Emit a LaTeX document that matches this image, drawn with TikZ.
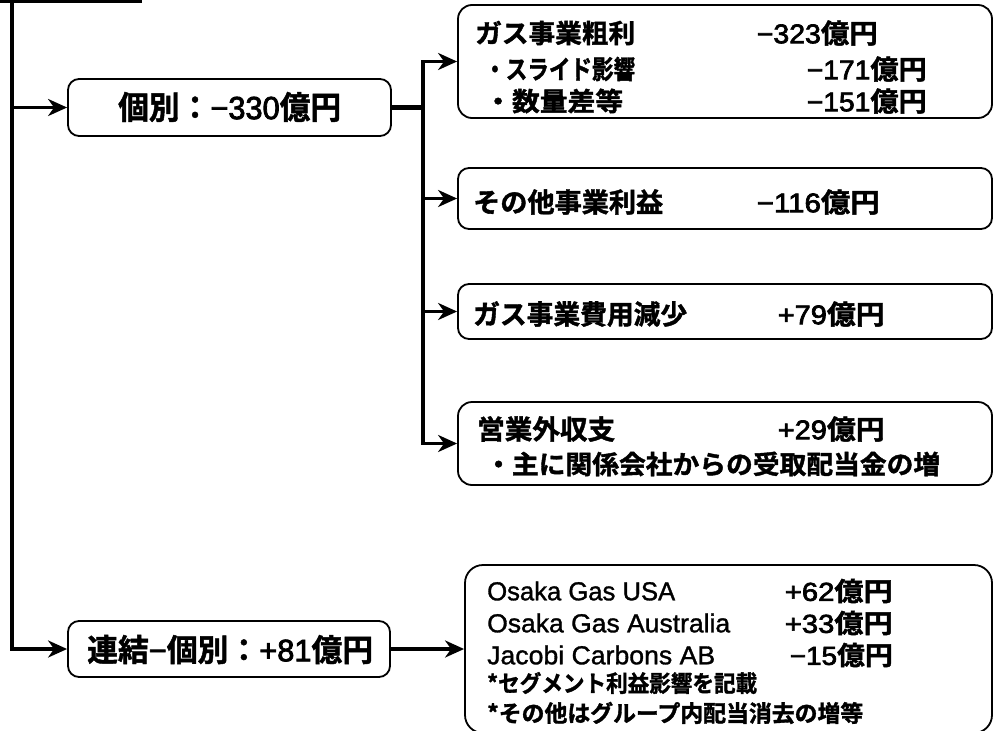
\documentclass[tikz,border=0pt]{standalone}
\usepackage{fontspec}
\usepackage{graphicx}
\setmainfont{Noto Sans CJK JP Bold}[FakeBold=1.5]
\newfontfamily\latf{Liberation Sans}[FakeBold=2.5]
\newfontfamily\latl{Liberation Sans}[FakeBold=1.2]
\usetikzlibrary{arrows.meta}
\newcommand\fitt[3]{\resizebox{#1pt}{\height}{\fontsize{#2pt}{#2pt}\selectfont #3}}
\newcommand\okuen[1]{{\latf #1}億円}
\begin{document}
\begin{tikzpicture}[x=1pt,y=-1pt,
  box/.style={draw=black, line width=1.8pt, rounded corners=#1, inner sep=0pt, fill=white},
  box/.default=10pt,
  lbl/.style={inner sep=0pt, anchor=west},
  val/.style={inner sep=0pt, anchor=east},
  trunk/.style={line width=4.5pt},
  arr/.style={line width=3.8pt, line join=miter, -{Stealth[length=19pt,width=17pt,inset=6pt]}}]
\useasboundingbox (0,0) rectangle (994,731);
\clip (0,0) rectangle (994,731);

% boxes
\node[box=11pt, minimum width=323pt, minimum height=57pt] (box1) at (229.5,107.5) {};
\node[box=11pt, minimum width=322pt, minimum height=56pt] (boxF) at (229,649) {};
\node[box=14pt, minimum width=534pt, minimum height=113pt] (boxA) at (725,61.5) {};
\node[box=11pt, minimum width=534pt, minimum height=61pt] (boxB) at (725,198.5) {};
\node[box=11pt, minimum width=534pt, minimum height=55pt] (boxC) at (725,311.5) {};
\node[box=14pt, minimum width=534pt, minimum height=83pt] (boxD) at (725,443.5) {};
\node[box=18pt, minimum width=527pt, minimum height=168pt] (boxE) at (728.5,649) {};

% connectors
\coordinate (tl) at (0,0.5);
\coordinate (tr) at (142,0.5);
\coordinate (t) at (12,0);
\coordinate (j) at (423,107.5);
\draw[trunk] (tl) -- (tr);
\draw[arr, line width=4.5pt] (t) |- (boxF.west);
\draw[arr] (t |- box1.west) -- (box1.west);
\draw[trunk] (box1.east) -- (j);
\draw[arr] (j) |- (boxA.west);
\draw[arr] (j) |- (boxD.west);
\draw[arr] (j |- boxB.west) -- (boxB.west);
\draw[arr] (j |- boxC.west) -- (boxC.west);
\draw[arr] (boxF.east) -- (boxE.west);

% texts
\node[lbl] (t1) at (118,107) {\fitt{223}{32}{個別：\okuen{−330}}};
\node[lbl] (tF) at (87,649.5) {\fitt{286}{31}{連結{\latf −}個別：\okuen{+81}}};

\node[lbl] (a1) at (475,33) {\fitt{160}{26}{ガス事業粗利}};
\node[val] (a1v) at (878,33) {\fitt{121}{27}{\okuen{−323}}};
\node[lbl] (a2) at (484,69) {\fitt{151}{26}{・スライド影響}};
\node[val] (a2v) at (927,69) {\fitt{120}{27}{\okuen{−171}}};
\node[lbl] (a3) at (484,101) {\fitt{139}{26}{・数量差等}};
\node[val] (a3v) at (927,101) {\fitt{120}{27}{\okuen{−151}}};

\node[lbl] (b1) at (473,202) {\fitt{190}{27}{その他事業利益}};
\node[val] (b1v) at (880,202) {\fitt{123}{27}{\okuen{−116}}};

\node[lbl] (c1) at (473,314) {\fitt{214}{27}{ガス事業費用減少}};
\node[val] (c1v) at (885,314) {\fitt{107}{27}{\okuen{+79}}};

\node[lbl] (d1) at (477,429) {\fitt{138}{27}{営業外収支}};
\node[val] (d1v) at (885,429) {\fitt{107}{27}{\okuen{+29}}};
\node[lbl] (d2) at (485,464) {\fitt{455}{26}{・主に関係会社からの受取配当金の増}};

\node[lbl] (e1) at (487,591) {\fitt{188}{26}{\latl Osaka Gas USA}};
\node[val] (e1v) at (893,591) {\fitt{108}{26}{\okuen{+62}}};
\node[lbl] (e2) at (487,623) {\fitt{243}{26}{\latl Osaka Gas Australia}};
\node[val] (e2v) at (893,623) {\fitt{108}{26}{\okuen{+33}}};
\node[lbl] (e3) at (487,655) {\fitt{228}{26}{\latl Jacobi Carbons AB}};
\node[val] (e3v) at (893,655) {\fitt{103}{26}{\okuen{−15}}};
\node[lbl] (e4) at (487,683) {\fitt{270}{23}{*セグメント利益影響を記載}};
\node[lbl] (e5) at (487,713) {\fitt{376}{23}{*その他はグループ内配当消去の増等}};
\end{tikzpicture}
\end{document}
